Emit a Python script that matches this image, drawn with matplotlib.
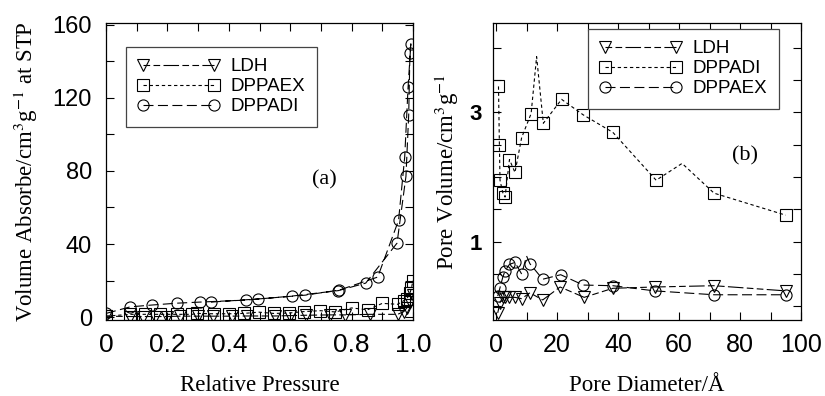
import numpy as np
import matplotlib
matplotlib.use("Agg")
import matplotlib.pyplot as plt

plt.rcParams['font.family'] = ['Liberation Sans', 'DejaVu Sans']
plt.rcParams['mathtext.fontset'] = 'stix'

# ---- (a) isotherms ----
p_ldh = [0.0, 0.079, 0.12, 0.16, 0.2, 0.24, 0.3, 0.35, 0.41, 0.46, 0.55, 0.6, 0.65, 0.73, 0.78, 0.86, 0.95, 0.97, 0.98, 0.99, 1.0]
v_ldh = [0.5, 0.3, 0.3, 0.3, 0.3, 0.5, 0.5, 0.5, 0.5, 0.6, 0.6, 0.8, 1.0, 1.2, 1.2, 1.5, 1.5, 3.0, 5.0, 8.0, 12.0]

p_aex = [0.0, 0.079, 0.128, 0.177, 0.23, 0.28, 0.297, 0.351, 0.4, 0.449, 0.498, 0.546, 0.595, 0.644, 0.698, 0.747, 0.8, 0.852, 0.9, 0.95, 0.97, 0.98, 0.99, 0.995, 1.0]
v_aex = [0.5, 1.5, 1.5, 1.5, 1.5, 1.5, 2.0, 1.8, 1.8, 2.0, 2.7, 2.0, 2.2, 3.0, 3.5, 2.8, 5.0, 4.0, 7.5, 7.0, 9.0, 10.0, 13.0, 16.0, 20.0]

p_adi = [0.0, 0.079, 0.15, 0.23, 0.305, 0.456, 0.606, 0.757, 0.846, 0.948, 0.977, 0.986, 0.99, 0.993, 0.984, 0.973, 0.953, 0.885, 0.76, 0.649, 0.494, 0.341]
v_adi = [2.0, 5.6, 6.6, 7.6, 8.2, 9.3, 11.5, 14.5, 18.6, 40.5, 77.0, 110.7, 144.6, 149.6, 126.0, 87.7, 53.0, 21.9, 14.8, 12.0, 9.9, 8.2]

# ---- (b) pore size distributions ----
d_ldh = [0.55, 1.3, 2.2, 2.95, 4.4, 6.2, 8.4, 11.1, 15.3, 21.0, 28.9, 38.3, 52.0, 71.5, 95.0]
pv_ldh = [-0.10, 0.06, 0.14, 0.14, 0.14, 0.14, 0.12, 0.21, 0.10, 0.30, 0.14, 0.28, 0.30, 0.32, 0.24]

d_adi = [0.8, 1.1, 1.3, 2.2, 2.95, 4.4, 6.2, 8.4, 11.5, 13.3, 15.5, 21.5, 28.6, 38.3, 52.5, 61.0, 71.5, 95.0]
pv_adi = [3.40, 2.49, 1.95, 1.76, 1.69, 2.27, 2.07, 2.61, 2.98, 3.86, 2.83, 3.20, 2.96, 2.69, 1.95, 2.21, 1.75, 1.41]
adi_marked = [True] * 9 + [False] + [True] * 5 + [False] + [True] * 2

d_aex = [0.55, 1.3, 2.2, 2.95, 4.4, 6.2, 8.4, 10.0, 11.1, 15.3, 21.2, 28.6, 38.3, 52.0, 71.5, 95.0]
pv_aex = [0.16, 0.29, 0.45, 0.55, 0.65, 0.68, 0.50, 0.78, 0.66, 0.42, 0.49, 0.33, 0.32, 0.24, 0.18, 0.18]
aex_marked = [True] * 7 + [False] + [True] * 8

W, H = 825, 396
fig = plt.figure(figsize=(W / 100, H / 100), dpi=100)

def fx(px):
    return px / W

def fy(py):
    return 1 - py / H

axA = fig.add_axes([fx(106), fy(320), fx(413 - 106), (320 - 23) / H])
axB = fig.add_axes([fx(493), fy(320), fx(801 - 493), (320 - 23) / H])

lw = 0.8
common = dict(color='black', lw=lw, mfc='none', mec='black', mew=0.8)
dash_ldh = (6, 3, 6, 3, 14, 3)
dash_short = (3, 2.5)
dash_long = (9, 4)

# (a)
axA.plot(p_ldh, v_ldh, marker='v', ms=8, dashes=dash_ldh, label='LDH', **common)
axA.plot(p_aex, v_aex, marker='s', ms=8.5, dashes=dash_short, label='DPPAEX', **common)
axA.plot(p_adi, v_adi, marker='o', ms=8, dashes=dash_long, label='DPPADI', **common)

axA.set_xlim(0, 1.0)
axA.set_ylim(-1.6, 161)
axA.set_xticks([0, 0.2, 0.4, 0.6, 0.8, 1.0])
axA.set_xticklabels(['0', '0.2', '0.4', '0.6', '0.8', '1.0'])
axA.set_xticks(np.arange(0, 1.01, 0.1), minor=True)
axA.set_yticks([0, 40, 80, 120, 160])
axA.set_yticks(np.arange(0, 161, 20), minor=True)
axA.tick_params(axis='x', which='major', labelsize=19, pad=9)
axA.tick_params(axis='y', which='major', labelsize=17, pad=10)
axA.set_xlabel('Relative Pressure', family='Liberation Serif', fontsize=16.5, labelpad=13)
axA.set_ylabel(r'Volume Absorbe/cm$^{3}$g$^{-1}$ at STP', family='Liberation Serif', fontsize=16.5, labelpad=9)
axA.text(0.71, 75, '(a)', family='Liberation Serif', fontsize=16, ha='center', va='center')

# (b)
axB.plot(d_ldh, pv_ldh, marker='v', ms=8, dashes=dash_ldh, label='LDH', **common)
axB.plot(d_adi, pv_adi, marker='s', ms=8.5, dashes=dash_short, label='DPPADI',
         markevery=adi_marked, **common)
axB.plot(d_aex, pv_aex, marker='o', ms=8, dashes=dash_long, label='DPPAEX',
         markevery=aex_marked, **common)

axB.set_xlim(-1, 100)
axB.set_ylim(-0.21, 4.38)
axB.set_xticks([0, 20, 40, 60, 80, 100])
axB.set_xticks(np.arange(0, 101, 10), minor=True)
axB.set_yticks([1, 3])
axB.set_yticks(np.arange(0, 4.01, 0.5), minor=True)
axB.tick_params(axis='x', which='major', labelsize=18, pad=9)
axB.tick_params(axis='y', which='major', labelsize=16, pad=8)
for lab in axB.get_yticklabels():
    lab.set_fontweight('bold')
axB.set_xlabel('Pore Diameter/Å', family='Liberation Serif', fontsize=16.5, labelpad=13)
axB.set_ylabel(r'Pore Volume/cm$^{3}$g$^{-1}$', family='Liberation Serif', fontsize=16.5, labelpad=6)
axB.text(81.6, 2.33, '(b)', family='Liberation Serif', fontsize=16, ha='center', va='center')

for ax in (axA, axB):
    ax.tick_params(which='both', direction='in', top=True, right=True, width=0.8)
    ax.tick_params(which='major', length=6)
    ax.tick_params(which='minor', length=6)
    for s in ax.spines.values():
        s.set_linewidth(0.9)

legkw = dict(loc='upper left', numpoints=2, handlelength=4.4, handletextpad=0.6,
             labelspacing=0.15, borderpad=0.6, borderaxespad=0, fancybox=False,
             framealpha=1, edgecolor='#444444', prop={'size': 13.5})
legA = axA.legend(bbox_to_anchor=(fx(126), fy(47)), bbox_transform=fig.transFigure, **legkw)
legB = axB.legend(bbox_to_anchor=(fx(588), fy(29)), bbox_transform=fig.transFigure, **legkw)
for leg in (legA, legB):
    leg.get_frame().set_linewidth(0.9)

fig.savefig('out.png', dpi=100)
